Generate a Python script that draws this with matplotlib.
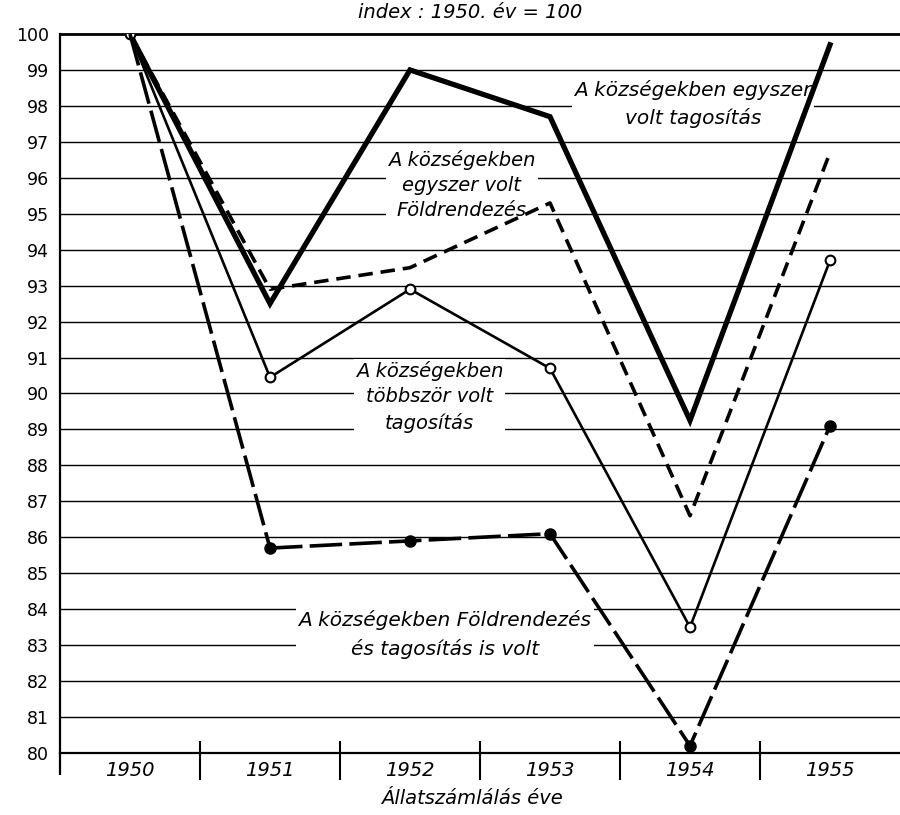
import matplotlib.pyplot as plt

years = ['1950', '1951', '1952', '1953', '1954', '1955']
egyszer_tag = [100, 92.5, 99.0, 97.7, 89.25, 99.7]
egyszer_fold = [100, 92.9, 93.5, 95.3, 86.6, 96.7]
tobbszor_tag = [100, 90.45, 92.9, 90.7, 83.5, 93.7]
fold_es_tag = [100, 85.7, 85.9, 86.1, 80.2, 89.1]
y_ticks = list(range(80, 101))

plt.rcParams['font.family'] = ['DejaVu Sans']

fig = plt.figure(figsize=(9, 8.15), dpi=100)
ax = fig.add_axes([60 / 900, 1 - 753 / 815, 840 / 900, (753 - 34) / 815])

x = list(range(len(years)))
ax.set_xlim(-0.5, 5.5)
ax.set_ylim(80, 100)

# grid
for v in y_ticks[1:-1]:
    ax.axhline(v, color='black', lw=1.0, zorder=1)
ax.axhline(100, color='black', lw=2.0, zorder=1, clip_on=False)

for s in ['top', 'right']:
    ax.spines[s].set_visible(False)
ax.spines['left'].set_linewidth(1.6)
ax.spines['bottom'].set_linewidth(1.6)

# lines
ax.plot(x, egyszer_tag, color='black', lw=3.8, solid_joinstyle='miter', zorder=4)
ax.plot(x, egyszer_fold, color='black', lw=2.6, dashes=(4, 2.2), zorder=4)
ax.plot(x, tobbszor_tag, color='black', lw=1.9, marker='o', ms=7,
        mfc='white', mec='black', mew=1.5, zorder=5)
ax.plot(x[1:], fold_es_tag[1:], color='black', lw=2.6, dashes=(9, 2), marker='o',
        ms=8, mfc='black', mec='black', zorder=5)
ax.plot(x[:2], fold_es_tag[:2], color='black', lw=2.6, dashes=(9, 2), zorder=5)

# y axis
ax.set_yticks(y_ticks)
ax.set_yticklabels([str(v) for v in y_ticks], fontsize=12.5)
ax.tick_params(axis='y', length=0, pad=8)

# x axis
ax.set_xticks(x)
ax.set_xticklabels(years, fontsize=14, style='italic')
ax.tick_params(axis='x', length=0, pad=6)
tr = ax.get_xaxis_transform()
ax.vlines([0.5, 1.5, 2.5, 3.5, 4.5], -0.038, 0.016, transform=tr,
          color='black', lw=1.5, clip_on=False)
ax.vlines([-0.5], -0.03, 0, transform=tr, color='black', lw=1.6, clip_on=False)

ax.text(0.49, -0.063, 'Állatszámlálás éve', transform=ax.transAxes,
        ha='center', va='center', fontsize=14, style='italic')
fig.text(470 / 900, 1 - 13 / 815, 'index : 1950. év = 100', ha='center',
         va='center', fontsize=14, style='italic')

box = dict(facecolor='white', edgecolor='none', pad=1.5)
ax.text(4.02, 98.05, 'A községekben egyszer\nvolt tagosítás', ha='center',
        va='center', fontsize=14.5, style='italic', linespacing=1.5,
        bbox=box, zorder=3)
ax.text(2.37, 95.8, 'A községekben\negyszer volt\nFöldrendezés', ha='center',
        va='center', fontsize=14, style='italic', linespacing=1.4,
        bbox=box, zorder=3)
ax.text(2.14, 89.9, 'A községekben\ntöbbször volt\ntagosítás', ha='center',
        va='center', fontsize=14, style='italic', linespacing=1.4,
        bbox=box, zorder=3)
ax.text(2.25, 83.3, 'A községekben Földrendezés\nés tagosítás is volt', ha='center',
        va='center', fontsize=14.5, style='italic', linespacing=1.55,
        bbox=box, zorder=3)

fig.savefig('out.png', dpi=100)
